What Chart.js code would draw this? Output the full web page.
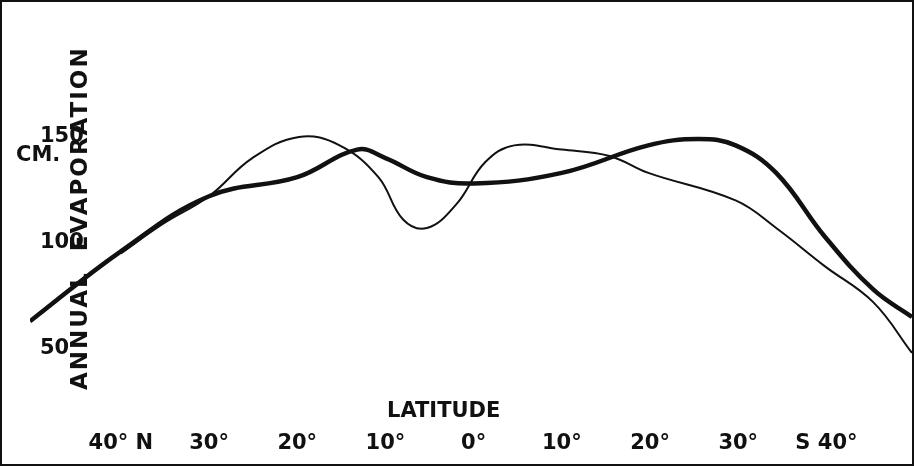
<!DOCTYPE html>
<html>
<head>
<meta charset="utf-8">
<script src="https://cdn.jsdelivr.net/npm/chart.js@4"></script>
<style>
  body { margin: 0; background: #fff; }
  #wrap { position: relative; width: 910px; height: 462px; border: 2px solid #111; }
  .lbl { position: absolute; font: bold 21px "DejaVu Sans", sans-serif; color: #111; }
</style>
</head>
<body>
<div id="wrap">
  <canvas id="evap" width="910" height="462"></canvas>
  <div class="lbl" style="left:385px; top:396px;">LATITUDE</div>
  <div class="lbl" style="left:14px; top:140px;">CM.</div>
  <div class="lbl" style="left:64px; top:388px; font-size:23px; letter-spacing:2px; transform: rotate(-90deg); transform-origin: left top; white-space: nowrap;">ANNUAL&nbsp;&nbsp;EVAPORATION</div>
</div>
<script>
// latitude: negative = north, positive = south
const thickLat = [-50.3, -40, -30, -20, -13.2, -10, -5.3, 0, 10, 19.8, 25.5, 29.7, 34.3, 39.8, 45.3, 49.7];
const thickVal = [63, 96, 122, 131, 144, 140, 131, 128, 133, 146, 149, 146, 133, 103, 78, 65];

const thinLat = [-40, -35.2, -30, -25.1, -19.8, -15.2, -10.8, -8, -5.3, -2, 1.3, 4.6, 10, 15.4, 19.8, 29.7, 34.3, 39.8, 45.3, 49.7];
const thinVal = [95, 109, 122, 140, 150, 146, 131, 111, 107, 118, 138, 146, 144, 141, 133, 120, 107, 89, 72, 48];

const latTicks = [-40, -30, -20, -10, 0, 10, 20, 30, 40];
const latLabels = ["40° N", "30°", "20°", "10°", "0°", "10°", "20°", "30°", "S 40°"];
const evapTicks = [50, 100, 150];

const toPts = (xs, ys) => xs.map((x, i) => ({x: x, y: ys[i]}));

new Chart(document.getElementById('evap'), {
    type: 'line',
    data: {
        datasets: [
            { data: toPts(thickLat, thickVal), borderColor: '#111', borderWidth: 4.5, pointRadius: 0, tension: 0.4 },
            { data: toPts(thinLat, thinVal), borderColor: '#111', borderWidth: 2, pointRadius: 0, tension: 0.4 }
        ]
    },
    options: {
        responsive: false,
        animation: false,
        layout: { padding: { bottom: 6 } },
        plugins: { legend: { display: false }, tooltip: { enabled: false } },
        scales: {
            x: {
                type: 'linear', min: -50.3, max: 49.7,
                grid: { display: false }, border: { display: false },
                afterBuildTicks: s => { s.ticks = latTicks.map(v => ({value: v})); },
                ticks: {
                    maxRotation: 0, padding: 2,
                    font: { family: 'DejaVu Sans', size: 21, weight: 'bold' }, color: '#111',
                    callback: v => latLabels[latTicks.indexOf(v)]
                }
            },
            y: {
                min: 16, max: 203,
                grid: { display: false }, border: { display: false },
                afterBuildTicks: s => { s.ticks = evapTicks.map(v => ({value: v})); },
                ticks: {
                    mirror: true, padding: 10,
                    font: { family: 'DejaVu Sans', size: 21, weight: 'bold' }, color: '#111'
                }
            }
        }
    }
});
</script>
</body>
</html>
